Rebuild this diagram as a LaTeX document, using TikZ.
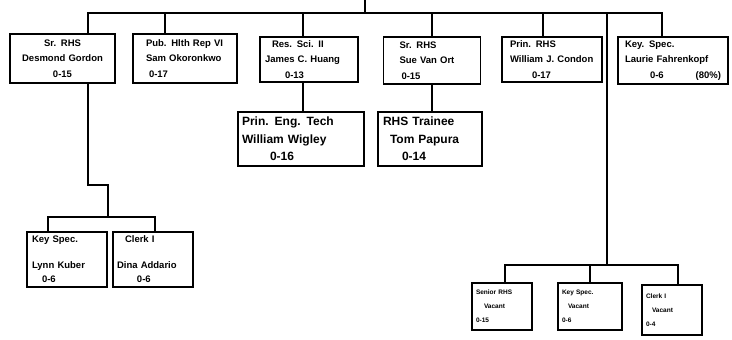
\documentclass[tikz,border=0pt]{standalone}
\usepackage{fontspec}
\setmainfont{Liberation Sans}

\begin{document}
\begin{tikzpicture}[x=1pt, y=-1pt,
  post/.style={rectangle, draw, line width=1.8pt, inner sep=0pt, align=left},
  toppost/.style={post, font=\fontsize{9.5}{15.5}\selectfont\bfseries},
  midpost/.style={post, font=\fontsize{12}{17.5}\selectfont\bfseries},
  lowpost/.style={post, font=\fontsize{9.5}{14}\selectfont\bfseries},
  vacpost/.style={post, font=\fontsize{6.5}{14}\selectfont\bfseries},
  link/.style={line width=1.8pt}]
\useasboundingbox (0,0) rectangle (732,340);

% Top row positions
\node[toppost, align=center, minimum width=105, minimum height=49, text width=97] (gordon) at (62.5,58.5) {Sr. RHS\\Desmond Gordon\\0-15};
\node[toppost, minimum width=104, minimum height=49, text width=78] (okoronkwo) at (185,58.5) {Pub. Hlth Rep VI\\Sam Okoronkwo\\\hspace*{3pt}0-17};
\node[toppost, minimum width=98, minimum height=45, text width=88] (huang) at (309,59.5) {\hspace*{7pt}Res. Sci. II\\James C. Huang\\\hspace*{20pt}0-13};
\node[toppost, minimum width=97, minimum height=47, text width=65] (vanort) at (432,60.5) {Sr. RHS\\Sue Van Ort\\\hspace*{2pt}0-15};
\node[toppost, minimum width=100, minimum height=45, text width=84] (condon) at (552,59.5) {Prin. RHS\\William J. Condon\\\hspace*{22pt}0-17};
\node[toppost, minimum width=110, minimum height=47, text width=96] (fahrenkopf) at (673,60.5) {Key. Spec.\\Laurie Fahrenkopf\\\hspace*{25pt}0-6\hfill(80\%)};

% Second row positions
\node[midpost, minimum width=126, minimum height=54, text width=118] (wigley) at (301,139) {Prin. Eng. Tech\\William Wigley\\\hspace*{28pt}0-16};
\node[midpost, minimum width=104, minimum height=54, text width=94] (papura) at (430,139) {RHS Trainee\\\hspace*{7pt}Tom Papura\\\hspace*{19pt}0-14};

% Lower left positions
\node[lowpost, minimum width=80, minimum height=55, text width=70] (kuber) at (67,259.5) {Key Spec.\\[12pt]Lynn Kuber\\\hspace*{10pt}0-6};
\node[lowpost, minimum width=80, minimum height=55, text width=72] (addario) at (153,259.5) {\hspace*{8pt}Clerk I\\[12pt]Dina Addario\\\hspace*{20pt}0-6};

% Lower right positions
\node[vacpost, minimum width=60, minimum height=47, text width=52] (vacrhs) at (502,306.5) {Senior RHS\\\hspace*{8pt}Vacant\\0-15};
\node[vacpost, minimum width=64, minimum height=47, text width=56] (vackey) at (590,306.5) {Key Spec.\\\hspace*{6pt}Vacant\\0-6};
\node[vacpost, minimum width=60, minimum height=50, text width=52] (vacclerk) at (672,310) {Clerk I\\\hspace*{6pt}Vacant\\0-4};

% Branch points
\coordinate (top) at (365,0);
\coordinate (hub) at (365,13);
\coordinate (lbend) at (108,185);
\coordinate (lhub) at (108,217);
\coordinate (rhub) at (607,265);

% Top bar
\draw[link] (top) -- (hub);
\draw[link] ([xshift=25.5pt]gordon.north) |- (hub);
\draw[link] ([xshift=-20pt]okoronkwo.north) |- (hub);
\draw[link] ([xshift=-6pt]huang.north) |- (hub);
\draw[link] (vanort.north) |- (hub);
\draw[link] ([xshift=-9pt]condon.north) |- (hub);
\draw[link] ([xshift=-11pt]fahrenkopf.north) |- (hub);
\draw[link] (hub) -| (rhub);

% Second row
\draw[link] ([xshift=-6pt]huang.south) -- ([xshift=-6pt]huang.south |- wigley.north);
\draw[link] (vanort.south) -- (vanort.south |- papura.north);

% Lower left
\draw[link] ([xshift=25.5pt]gordon.south) |- (lbend) -- (lhub);
\draw[link] ([xshift=-19pt]kuber.north) |- (lhub);
\draw[link] ([xshift=2pt]addario.north) |- (lhub);

% Lower right
\draw[link] ([xshift=3pt]vacrhs.north) |- (rhub);
\draw[link] (vackey.north) |- (rhub);
\draw[link] ([xshift=6pt]vacclerk.north) |- (rhub);
\end{tikzpicture}
\end{document}
